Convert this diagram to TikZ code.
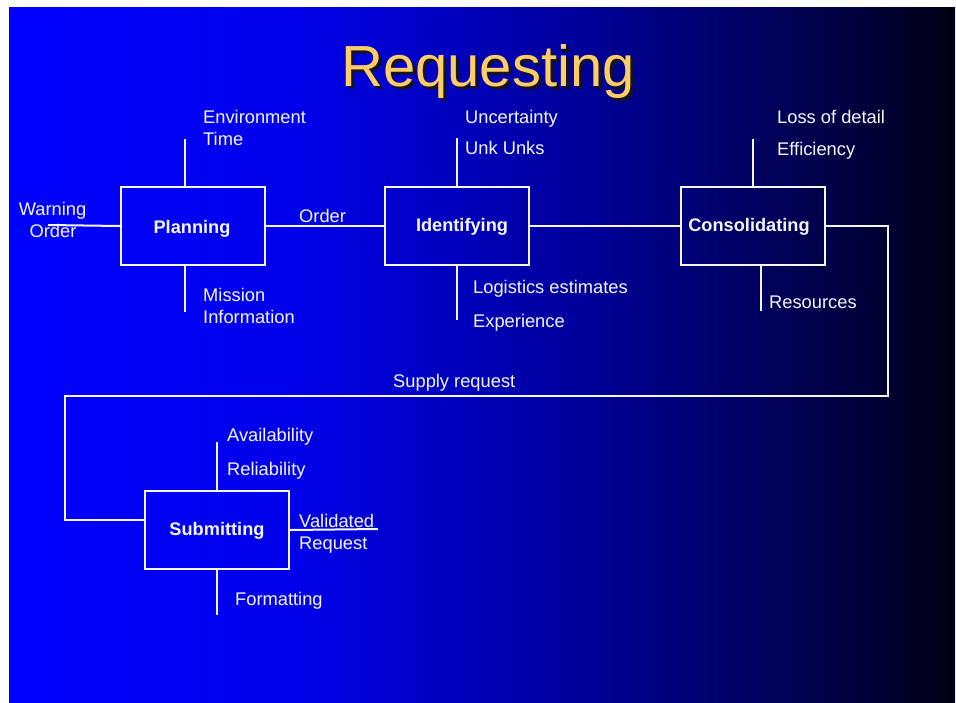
\documentclass[tikz,border=0pt]{standalone}
\usepackage{fontspec}
\setmainfont{Liberation Sans}

% slide background: bright blue fading to near black on the right
\definecolor{bgA}{RGB}{0,0,255}
\definecolor{bgB}{RGB}{0,0,235}
\definecolor{bgC}{RGB}{0,0,150}
\definecolor{bgD}{RGB}{0,0,60}
\definecolor{bgE}{RGB}{0,0,18}
\definecolor{titlegold}{RGB}{255,204,102}
\definecolor{titleshadow}{RGB}{20,20,30}
\definecolor{inkwhite}{RGB}{245,245,255}
\pgfdeclarehorizontalshading{slidebg}{100bp}{%
  color(0bp)=(bgA); color(25bp)=(bgA); color(40bp)=(bgB); color(56bp)=(bgC);
  color(70bp)=(bgD); color(75bp)=(bgE); color(100bp)=(bgE)}

% title text with a dark drop shadow set behind it
\newcommand{\shadowedtitle}[1]{%
  \makebox[0pt][l]{\hspace{3pt}\raisebox{-3pt}{\textcolor{titleshadow}{#1}}}%
  \textcolor{titlegold}{#1}}

\tikzset{
  stage/.style={draw=inkwhite, line width=2pt, minimum width=144pt,
    minimum height=78pt, inner sep=0pt},
  stagetext/.style={text=inkwhite, anchor=base, inner sep=0pt,
    font=\bfseries\fontsize{18.2}{22}\selectfont},
  link/.style={draw=inkwhite, line width=2pt},
  lbl/.style={text=inkwhite, anchor=base west, inner sep=0pt,
    font=\fontsize{18.3}{22}\selectfont},
}

\begin{document}
\begin{tikzpicture}[x=1pt, y=-1pt]
  \useasboundingbox (0,0) rectangle (956,702);
  \fill[white] (0,0) rectangle (956,702);
  \shade[shading=slidebg] (9,7) rectangle (955,702);

  % title
  \node[anchor=base west, inner sep=0pt,
        font=\fontsize{58}{60}\selectfont] (title) at (341,86) {\shadowedtitle{Requesting}};

  % process boxes
  \node[stage] (plan) at (193,226) {};
  \node[stagetext] (plan-t) at (192,233) {Planning};
  \node[stage] (ident) at (457,226) {};
  \node[stagetext] (ident-t) at (462,231) {Identifying};
  \node[stage] (cons) at (753,226) {};
  \node[stagetext] (cons-t) at (749,231) {Consolidating};
  \node[stage] (sub) at (217,530) {};
  \node[stagetext] (sub-t) at (217,535) {Submitting};

  % main flow
  \coordinate (wo) at (48,225);
  \coordinate (r1) at (888,396);
  \coordinate (r2) at (65,396);
  \coordinate (vr) at (378,529);
  \draw[link] (wo) -- (plan.west);
  \draw[link] (plan.east) -- (ident.west);
  \draw[link] (ident.east) -- (cons.west);
  \draw[link] (cons.east) -| (r1) -- (r2) |- ([yshift=10pt]sub.west);
  \draw[link] (sub.east) -- (vr);

  % influence ticks above and below each box
  \coordinate (pt) at (185,139);
  \coordinate (pb) at (185,312);
  \coordinate (it) at (457,138);
  \coordinate (ib) at (457,320);
  \coordinate (ct) at (753,139);
  \coordinate (cb) at (761,311);
  \coordinate (st) at (217,442);
  \coordinate (sb) at (217,615);
  \draw[link] (pt) -- (pt |- plan.north);
  \draw[link] (pb) -- (pb |- plan.south);
  \draw[link] (it) -- (ident.north);
  \draw[link] (ib) -- (ident.south);
  \draw[link] (ct) -- (cons.north);
  \draw[link] (cb) -- (cb |- cons.south);
  \draw[link] (st) -- (sub.north);
  \draw[link] (sb) -- (sub.south);

  % labels
  \node[lbl, anchor=base] (warn) at (52.5,215) {Warning};
  \node[lbl, anchor=base] (word) at (53,237) {Order};
  \node[lbl] (ord) at (299,222) {Order};

  \node[lbl] (env) at (203,123) {Environment};
  \node[lbl] (time) at (203,145) {Time};
  \node[lbl] (miss) at (203,301) {Mission};
  \node[lbl] (info) at (203,323) {Information};

  \node[lbl] (unc) at (465,123) {Uncertainty};
  \node[lbl] (unk) at (465,154) {Unk Unks};
  \node[lbl] (logi) at (473,293) {Logistics estimates};
  \node[lbl] (exp) at (473,327) {Experience};

  \node[lbl] (loss) at (777,123) {Loss of detail};
  \node[lbl] (eff) at (777,155) {Efficiency};
  \node[lbl] (res) at (769,308) {Resources};

  \node[lbl] (supp) at (393,387) {Supply request};

  \node[lbl] (avail) at (227,441) {Availability};
  \node[lbl] (rel) at (227,475) {Reliability};
  \node[lbl] (val) at (299,527) {Validated};
  \node[lbl] (req) at (299,549) {Request};
  \node[lbl] (fmt) at (235,605) {Formatting};
\end{tikzpicture}
\end{document}
